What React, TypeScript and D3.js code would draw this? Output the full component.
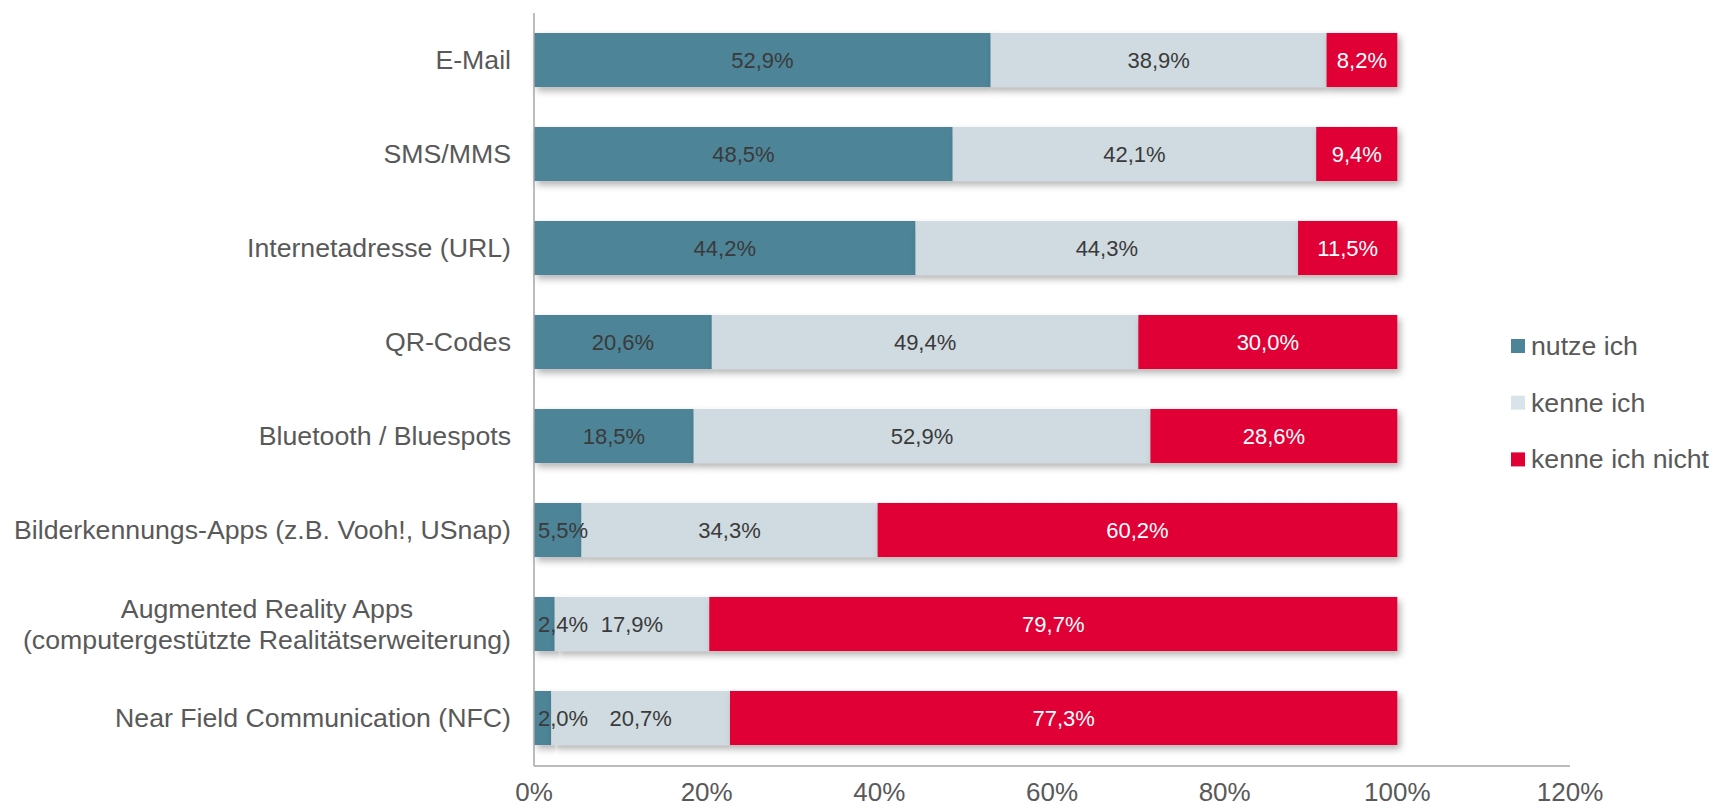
import React from "react";
import * as d3 from "d3";

const categories = [
  "E-Mail",
  "SMS/MMS",
  "Internetadresse (URL)",
  "QR-Codes",
  "Bluetooth / Bluespots",
  "Bilderkennungs-Apps (z.B. Vooh!, USnap)",
  "Augmented Reality Apps\n(computergestützte Realitätserweiterung)",
  "Near Field Communication (NFC)",
];
const nutzeIch = [52.9, 48.5, 44.2, 20.6, 18.5, 5.5, 2.4, 2.0];
const kenneIch = [38.9, 42.1, 44.3, 49.4, 52.9, 34.3, 17.9, 20.7];
const kenneIchNicht = [8.2, 9.4, 11.5, 30.0, 28.6, 60.2, 79.7, 77.3];
const seriesNames = ["nutze ich", "kenne ich", "kenne ich nicht"];
const xTicks = [0, 20, 40, 60, 80, 100, 120];

const COLORS = ["#4E8497", "#CFDBE0", "#E00034"];
const LEGEND_COLORS = ["#4E8497", "#D9E4EA", "#E00034"];
const LABEL_COLORS = ["#3A3A3A", "#3A3A3A", "#FFFFFF"];
const FONT = "Liberation Sans, Arial, sans-serif";

let canvasCtx: CanvasRenderingContext2D | null = null;
function measure(text: string, size: number): number {
  if (!canvasCtx) {
    const c = document.createElement("canvas");
    canvasCtx = c.getContext("2d");
  }
  if (!canvasCtx) return text.length * size * 0.55;
  canvasCtx.font = `${size}px ${FONT}`;
  return canvasCtx.measureText(text).width;
}

const fmt = (v: number) => v.toFixed(1).replace(".", ",") + "%";

export default function App() {
  const W = 1713;
  const H = 808;
  const x0 = 534;
  const x = d3.scaleLinear().domain([0, 120]).range([x0, 1570]);
  const y = d3
    .scaleBand<string>()
    .domain(categories)
    .range([13, 765])
    .paddingInner(0.425)
    .paddingOuter(0.2125);

  const seriesData = [nutzeIch, kenneIch, kenneIchNicht];
  const rows = categories.map((c, i) => ({
    cat: c,
    v0: nutzeIch[i],
    v1: kenneIch[i],
    v2: kenneIchNicht[i],
  }));
  const stack = d3.stack<any>().keys(["v0", "v1", "v2"]);
  const stacked = stack(rows);

  const labelSize = 22;
  const catSize = 26.7;
  const tickSize = 26;

  return (
    <svg
      width={W}
      height={H}
      style={{ position: "absolute", left: 0, top: 0, background: "#fff" }}
      fontFamily={FONT}
    >
      <defs>
        <filter id="shadow" x="-10%" y="-20%" width="130%" height="160%">
          <feDropShadow dx="3" dy="4" stdDeviation="3.5" floodColor="#000" floodOpacity="0.3" />
        </filter>
      </defs>

      {/* bars */}
      {rows.map((r, i) => (
        <g key={r.cat}>
          {stacked.map((s, si) => {
            const d = s[i];
            const xa = x(d[0]);
            const xb = x(d[1]);
            return (
              <rect
                key={si}
                x={xa}
                y={y(r.cat)!}
                width={Math.max(0, xb - xa)}
                height={y.bandwidth()}
                fill={COLORS[si]}
                filter="url(#shadow)"
              />
            );
          })}
        </g>
      ))}

      {/* data labels */}
      {rows.map((r, i) => (
        <g key={"l" + r.cat}>
          {stacked.map((s, si) => {
            const d = s[i];
            const xa = x(d[0]);
            const xb = x(d[1]);
            const text = fmt(seriesData[si][i]);
            const w = measure(text, labelSize);
            let cx = (xa + xb) / 2;
            if (cx - w / 2 < x0 + 4) cx = x0 + 4 + w / 2;
            return (
              <text
                key={si}
                x={cx}
                y={y(r.cat)! + y.bandwidth() / 2}
                textAnchor="middle"
                dominantBaseline="central"
                fontSize={labelSize}
                fill={LABEL_COLORS[si]}
              >
                {text}
              </text>
            );
          })}
        </g>
      ))}

      {/* axes */}
      <line x1={x0} x2={x0} y1={13} y2={766} stroke="#A6A6A6" strokeWidth={1.5} />
      <line x1={x0} x2={1570} y1={766} y2={766} stroke="#A6A6A6" strokeWidth={1.5} />

      {xTicks.map((t) => (
        <text
          key={t}
          x={x(t)}
          y={801}
          textAnchor="middle"
          fontSize={tickSize}
          fill="#595959"
        >
          {t + "%"}
        </text>
      ))}

      {/* category labels */}
      {categories.map((c) => {
        const lines = c.split("\n");
        const cy = y(c)! + y.bandwidth() / 2;
        const right = 511;
        if (lines.length === 1) {
          return (
            <text
              key={c}
              x={right}
              y={cy}
              textAnchor="end"
              dominantBaseline="central"
              fontSize={catSize}
              fill="#595959"
            >
              {c}
            </text>
          );
        }
        const maxW = Math.max(...lines.map((l) => measure(l, catSize)));
        const mid = right - maxW / 2;
        const lh = 31;
        return (
          <text key={c} textAnchor="middle" fontSize={catSize} fill="#595959">
            {lines.map((l, li) => (
              <tspan
                key={li}
                x={mid}
                y={cy + (li - (lines.length - 1) / 2) * lh}
                dominantBaseline="central"
              >
                {l}
              </tspan>
            ))}
          </text>
        );
      })}

      {/* legend */}
      {seriesNames.map((n, i) => {
        const ly = 346 + i * 56.7;
        return (
          <g key={n}>
            <rect x={1511} y={ly - 7} width={14} height={14} fill={LEGEND_COLORS[i]} />
            <text
              x={1531}
              y={ly}
              dominantBaseline="central"
              fontSize={catSize}
              fill="#595959"
            >
              {n}
            </text>
          </g>
        );
      })}
    </svg>
  );
}
